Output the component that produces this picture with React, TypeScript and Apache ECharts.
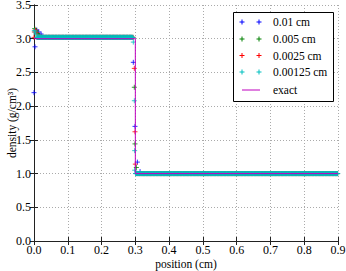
import React, { useEffect, useRef } from "react";
import * as echarts from "echarts";

// Legend labels and colours
const LABELS = ["0.01 cm", "0.005 cm", "0.0025 cm", "0.00125 cm"];
const COLORS = ["#0000ff", "#008000", "#ff0000", "#00bfbf"];
const EXACT_LABEL = "exact";
const EXACT_COLOR = "#bf00bf";

// Mesh spacing of each run (cm), as given by the legend
const SPACING = [0.01, 0.005, 0.0025, 0.00125];

// Plateau density levels (g/cm^3)
const HIGH_LEVEL = [3.02, 3.02, 3.02, 3.02];
const LOW_LEVEL = [1.0, 1.0, 1.0, 1.0];

// First cell of the high plateau, last cell before the jump, first cell after it
const HIGH_START = [0.025, 0.0175, 0.01125, 0.008125];
const HIGH_END = [0.285, 0.2875, 0.29375, 0.293125];
const LOW_START = [0.325, 0.3125, 0.30375, 0.300625];

// Points near the left wall (x, density)
const BLUE_LEFT = [[0.0, 2.2], [0.003, 2.88], [0.008, 3.13], [0.014, 3.1], [0.021, 3.07]];
const GREEN_LEFT = [[0.002, 3.15], [0.006, 3.12], [0.011, 3.08], [0.015, 3.05]];
const RED_LEFT = [[0.001, 3.1], [0.004, 3.13], [0.007, 3.09], [0.0, 3.02]];
const CYAN_LEFT = [[0.001, 3.12], [0.003, 3.1], [0.005, 3.07]];

// Points inside the jump at x = 0.3 (x, density)
const BLUE_JUMP = [[0.294, 2.65], [0.299, 1.7], [0.306, 1.17], [0.314, 1.03]];
const GREEN_JUMP = [[0.297, 2.28], [0.299, 1.44], [0.303, 1.09]];
const RED_JUMP = [[0.297, 2.56], [0.299, 1.62], [0.3, 1.14]];
const CYAN_JUMP = [[0.294, 2.95], [0.297, 2.08], [0.298, 1.34], [0.298, 1.05]];

const LEFTS = [BLUE_LEFT, GREEN_LEFT, RED_LEFT, CYAN_LEFT];
const JUMPS = [BLUE_JUMP, GREEN_JUMP, RED_JUMP, CYAN_JUMP];

// Exact solution
const EXACT_X = [0.0, 0.3, 0.3, 0.9];
const EXACT_Y = [3.0, 3.0, 1.0, 1.0];

// Axis ticks
const X_MIN = 0, X_MAX = 0.9, X_STEP = 0.1;
const Y_MIN = 0, Y_MAX = 3.5, Y_STEP = 0.5;

const PLUS = "path://M5,0L5,10M0,5L10,5";
const FONT = "'Liberation Serif', 'Times New Roman', serif";

function cells(dx: number, from: number, to: number, level: number) {
  const out: number[][] = [];
  const n = Math.round((to - from) / dx);
  for (let k = 0; k <= n; k++) out.push([from + k * dx, level]);
  return out;
}

export default function App() {
  const ref = useRef<HTMLDivElement>(null);
  useEffect(() => {
    if (!ref.current) return;
    const chart = echarts.init(ref.current, null, { renderer: "svg" });

    const scatter = LABELS.map((name, i) => ({
      name,
      type: "scatter",
      symbol: PLUS,
      symbolSize: 5,
      itemStyle: { color: "transparent", borderColor: COLORS[i], borderWidth: 1 },
      data: [
        ...LEFTS[i],
        ...cells(SPACING[i], HIGH_START[i], HIGH_END[i], HIGH_LEVEL[i]),
        ...JUMPS[i],
        ...cells(SPACING[i], LOW_START[i], X_MAX, LOW_LEVEL[i]),
      ],
      z: 2 + i,
    }));

    const exact = {
      name: EXACT_LABEL,
      type: "line",
      showSymbol: false,
      symbol: "none",
      lineStyle: { color: EXACT_COLOR, width: 1 },
      data: EXACT_X.map((x, i) => [x, EXACT_Y[i]]),
      z: 10,
    };

    // legend
    const lx = 233, ly = 12, lw = 100, lh = 89;
    const rowY = [22, 39, 55.5, 72, 90];
    const legendFont = 11.5;
    const legendEls: any[] = [
      {
        type: "rect",
        shape: { x: lx + 0.5, y: ly + 0.5, width: lw, height: lh },
        style: { fill: "#fff", stroke: "#000", lineWidth: 1 },
        z: 100,
      },
    ];
    LABELS.forEach((name, i) => {
      [242, 259].forEach((cx) => {
        legendEls.push({
          type: "line",
          shape: { x1: cx - 2.5, y1: rowY[i], x2: cx + 2.5, y2: rowY[i] },
          style: { stroke: COLORS[i], lineWidth: 1 },
          z: 101,
        });
        legendEls.push({
          type: "line",
          shape: { x1: cx, y1: rowY[i] - 2.5, x2: cx, y2: rowY[i] + 2.5 },
          style: { stroke: COLORS[i], lineWidth: 1 },
          z: 101,
        });
      });
      legendEls.push({
        type: "text",
        x: 273,
        y: rowY[i],
        style: { text: name, fill: "#000", fontFamily: FONT, fontSize: legendFont, verticalAlign: "middle" },
        z: 101,
      });
    });
    legendEls.push({
      type: "line",
      shape: { x1: 242, y1: rowY[4], x2: 260, y2: rowY[4] },
      style: { stroke: EXACT_COLOR, lineWidth: 1 },
      z: 101,
    });
    legendEls.push({
      type: "text",
      x: 273,
      y: rowY[4],
      style: { text: EXACT_LABEL, fill: "#000", fontFamily: FONT, fontSize: legendFont, verticalAlign: "middle" },
      z: 101,
    });

    const axisLine = { show: true, lineStyle: { color: "#222", width: 1 } };
    const tick = { show: true, inside: true, length: 4, lineStyle: { color: "#222" } };
    const split = { show: true, lineStyle: { color: "#aaa", type: [1, 2], width: 1 } };
    const label = { color: "#000", fontFamily: FONT, fontSize: 12 };

    chart.setOption({
      animation: false,
      backgroundColor: "#fff",
      grid: { left: 34, right: 8, top: 5, bottom: 30, containLabel: false, outerBoundsMode: "none" },
      xAxis: [
        {
          type: "value",
          min: X_MIN,
          max: X_MAX,
          interval: X_STEP,
          position: "bottom",
          name: "position (cm)",
          nameLocation: "middle",
          nameGap: 17,
          nameMoveOverlap: false,
          nameTextStyle: { color: "#000", fontFamily: FONT, fontSize: 11.5 },
          axisLine,
          axisTick: tick,
          splitLine: split,
          axisLabel: { ...label, margin: 3, formatter: (v: number) => v.toFixed(1) },
        },
        {
          type: "value",
          min: X_MIN,
          max: X_MAX,
          interval: X_STEP,
          position: "top",
          axisLine,
          axisTick: tick,
          splitLine: { show: false },
          axisLabel: { show: false },
        },
      ],
      yAxis: [
        {
          type: "value",
          min: Y_MIN,
          max: Y_MAX,
          interval: Y_STEP,
          position: "left",
          name: "density (g/cm³)",
          nameLocation: "middle",
          nameGap: 16,
          nameMoveOverlap: false,
          nameTextStyle: { color: "#000", fontFamily: FONT, fontSize: 11.5 },
          axisLine,
          axisTick: tick,
          splitLine: split,
          axisLabel: { ...label, margin: 3, formatter: (v: number) => v.toFixed(1) },
        },
        {
          type: "value",
          min: Y_MIN,
          max: Y_MAX,
          interval: Y_STEP,
          position: "right",
          axisLine,
          axisTick: tick,
          splitLine: { show: false },
          axisLabel: { show: false },
        },
      ],
      graphic: legendEls,
      series: [...scatter, exact],
    });
    return () => chart.dispose();
  }, []);
  return (
    <div
      ref={ref}
      style={{ position: "fixed", left: 0, top: 0, width: 346, height: 271, background: "#fff" }}
    />
  );
}
